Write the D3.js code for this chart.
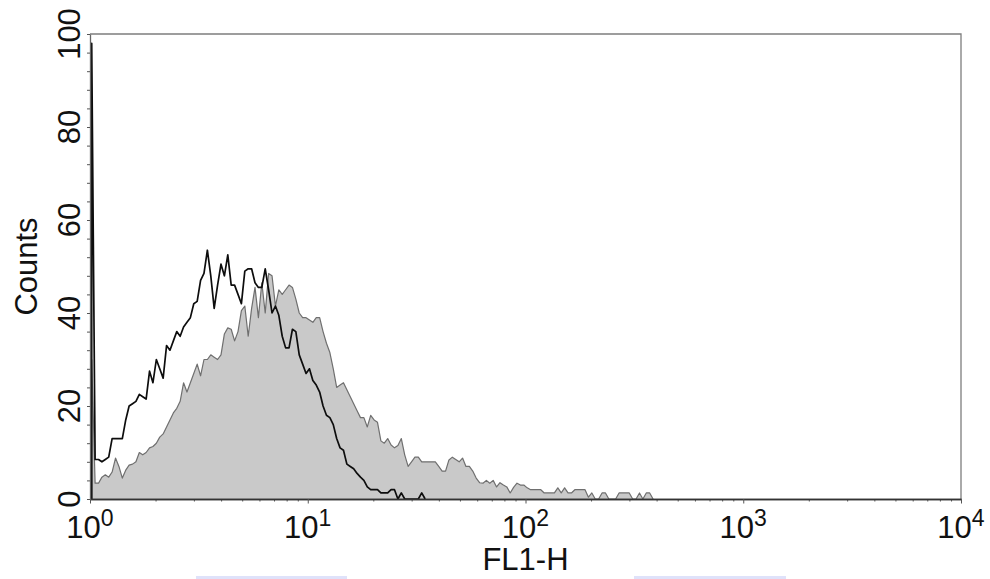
<script src="https://d3js.org/d3.v7.min.js"></script>
<style>
body {
  margin: 0;
  background-color: #fff;
  overflow: hidden;
}
text {
  font-family: "Liberation Sans", Arial, sans-serif;
  fill: #111;
}
</style>
<svg width="990" height="579" id="vis"></svg>
<script>
// histogram counts per channel (256 channels over 4 decades)
var blackCounts = [98, 8.5, 8.5, 8, 8.5, 9, 13, 13, 13, 13, 17, 20, 20.5, 21, 22.5, 22, 21.5, 27.5, 25, 30,
  28, 26, 33, 32, 34, 36, 35, 37, 38, 39, 42, 42.5, 47, 48.5, 53.5, 48, 41, 46, 50.5, 48,
  52.5, 46, 46, 44, 42, 49, 49.5, 49.5, 46.5, 45.5, 45.5, 49.5, 45, 40, 41.5, 39.5, 35, 32.5, 32.5, 36.5,
  36, 31, 29, 27, 28, 25.5, 24.5, 23, 20, 18, 17.5, 16, 13, 11, 10.5, 7.5, 7, 6.5, 5.5, 4.7,
  4, 2.6, 2, 2, 2, 1.3, 1.3, 1.3, 2, 2, 0, 1.3, 0, 0, 0, 0, 0, 1.3, 0];

var grayCounts = [30, 3.4, 3.4, 4.7, 5.2, 4.7, 5.8, 8.8, 7, 4.5, 6.2, 7.3, 7.5, 8, 10, 9.5, 10, 11, 11.3, 12,
  13.3, 14, 15.5, 17, 18.5, 19.5, 21, 25, 23, 25, 27, 29, 26.5, 30, 30, 31, 30.5, 30, 31, 35.5,
  36.8, 36.5, 34, 36, 40.5, 41.5, 35, 41, 45.5, 39, 46.5, 40, 48.5, 48, 41.5, 45, 44, 45, 46, 45.5,
  43, 40, 39, 39, 38.5, 38, 39, 39, 36, 33.5, 31.5, 28, 24, 24.5, 25, 23.5, 22, 20.5, 19, 17.5,
  17.5, 15.5, 18, 17, 16.5, 12.5, 12, 13, 11.6, 11, 11.5, 13, 9.5, 7, 8, 9, 9, 8, 8, 8,
  8, 8, 7, 6, 6, 8.4, 9, 8.5, 8, 8.8, 7, 7, 6, 4.5, 3.5, 3.4, 4, 3.4, 4, 2.6,
  3.5, 3, 2.6, 1.3, 2.5, 3.4, 3, 3, 2.4, 2, 2, 2, 2, 1.3, 1.3, 1.3, 1.3, 2.4, 1.3, 2.4,
  1.3, 1.3, 2, 2, 2, 2, 0.4, 1.3, 0, 0, 1.3, 1.3, 0, 0, 0, 1.3, 1.3, 1.3, 1.3, 0,
  0, 1.3, 0, 1.3, 1.3, 0];

var xMajor = [1, 10, 100, 1000, 10000];
var xExponents = ["0", "1", "2", "3", "4"];
var yMajor = [0, 20, 40, 60, 80, 100];

var channels = 256, decades = 4;

var svg = d3.select("svg"),
    pLeft = 90, pRight = 961, pTop = 34, pBottom = 499;

var x = d3.scaleLog().domain([1, 10000]).range([pLeft, pRight]);
var y = d3.scaleLinear().domain([0, 100]).range([pBottom, pTop]);

// channel -> FL1 value
function chValue(i) { return Math.pow(10, (i + 0.5) * decades / channels); }

// start each trace on the baseline right under its first channel, so the first bin is a sharp spike
function toPoints(counts) {
  var pts = counts.map(function(c, i) { return {v: chValue(i), c: c}; });
  pts.unshift({v: chValue(0), c: 0});
  return pts;
}

var blackPts = toPoints(blackCounts),
    grayPts = toPoints(grayCounts);

var line = d3.line()
  .x(function(d) { return x(d.v); })
  .y(function(d) { return y(d.c); });

var area = d3.area()
  .x(function(d) { return x(d.v); })
  .y0(y(0))
  .y1(function(d) { return y(d.c); });

var g = svg.append("g");

// filled histogram first, open one on top
g.append("path")
  .attr("d", area(grayPts))
  .attr("fill", "#c9c9c9");

g.append("path")
  .attr("d", line(grayPts))
  .attr("fill", "none")
  .attr("stroke", "#6f6f6f")
  .attr("stroke-width", 1.2)
  .attr("stroke-linejoin", "round");

g.append("path")
  .attr("d", line(blackPts))
  .attr("fill", "none")
  .attr("stroke", "#0d0d0d")
  .attr("stroke-width", 1.7)
  .attr("stroke-linejoin", "round");

// frame (top + right)
svg.append("path")
  .attr("d", "M" + pLeft + "," + pTop + "H" + pRight + "V" + pBottom)
  .attr("fill", "none")
  .attr("stroke", "#7d7d7d")
  .attr("stroke-width", 1.3);

// x axis: minor ticks for 2..9 in each decade, longer majors
var xMinor = [];
for (var d = 1; d < 10000; d *= 10) {
  for (var k = 2; k <= 9; k++) xMinor.push(d * k);
}

var xAxisG = svg.append("g")
  .attr("transform", "translate(0," + pBottom + ")");

xAxisG.append("g")
  .call(d3.axisBottom(x).tickValues(xMinor).tickSize(2.5).tickFormat("").tickSizeOuter(0));
xAxisG.append("g")
  .call(d3.axisBottom(x).tickValues(xMajor).tickSize(4.5).tickFormat("").tickSizeOuter(0));
xAxisG.selectAll(".domain").attr("stroke", "#333").attr("stroke-width", 1.5);
xAxisG.selectAll(".tick line").attr("stroke", "#555");

// y axis: small ticks every 4 counts
var yAxisG = svg.append("g")
  .attr("transform", "translate(" + pLeft + ",0)")
  .call(d3.axisLeft(y).tickValues(d3.range(0, 101, 4)).tickSize(3).tickFormat("").tickSizeOuter(0));
yAxisG.select(".domain").attr("stroke", "#666").attr("stroke-width", 1.3);
yAxisG.selectAll(".tick line").attr("stroke", "#555");

// y tick labels, rotated
svg.selectAll(".ylab")
  .data(yMajor)
  .enter()
  .append("text")
  .attr("class", "ylab")
  .attr("transform", function(d) { return "translate(80," + y(d) + ") rotate(-90)"; })
  .attr("text-anchor", "middle")
  .attr("font-size", "31px")
  .text(function(d) { return d; });

// x tick labels as powers of ten
var xl = svg.selectAll(".xlab")
  .data(xMajor)
  .enter()
  .append("text")
  .attr("class", "xlab")
  .attr("x", function(d) { return x(d); })
  .attr("y", 538)
  .attr("text-anchor", "middle")
  .attr("font-size", "31px");

xl.append("tspan").text("10");
xl.append("tspan")
  .attr("dy", -12)
  .attr("font-size", "23px")
  .text(function(d, i) { return xExponents[i]; });

svg.append("text")
  .attr("x", (pLeft + pRight) / 2)
  .attr("y", 570)
  .attr("text-anchor", "middle")
  .attr("font-size", "31px")
  .text("FL1-H");

svg.append("text")
  .attr("transform", "translate(37," + (pTop + pBottom) / 2 + ") rotate(-90)")
  .attr("text-anchor", "middle")
  .attr("font-size", "31px")
  .text("Counts");

// faint bluish strips at the very bottom of the scan
svg.append("rect").attr("x", 196).attr("y", 576).attr("width", 151).attr("height", 3).attr("fill", "#dfe2fa");
svg.append("rect").attr("x", 634).attr("y", 576).attr("width", 152).attr("height", 3).attr("fill", "#dfe2fa");
</script>
